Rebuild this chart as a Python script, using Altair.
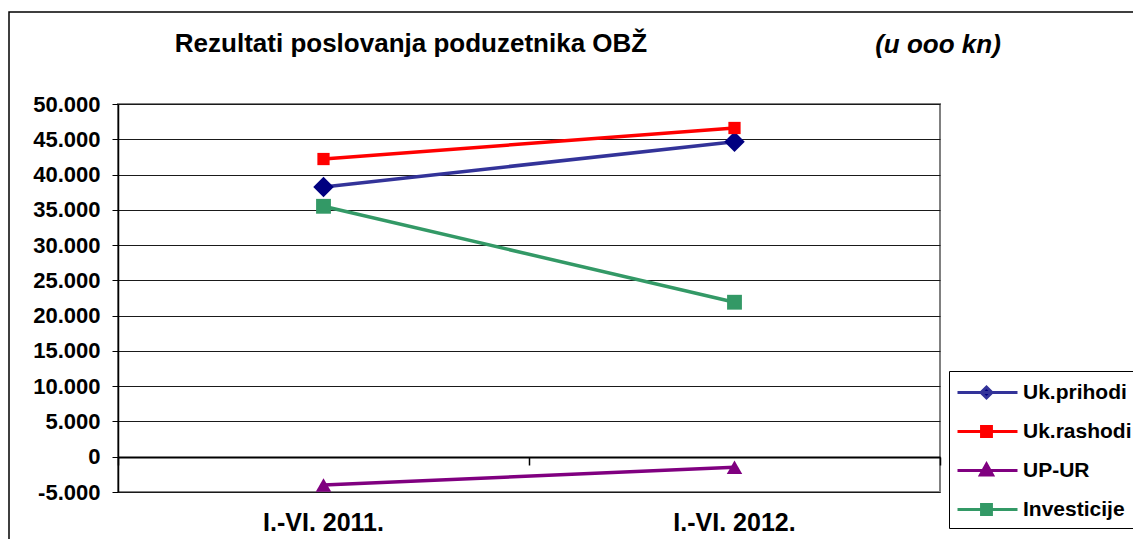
import altair as alt
import pandas as pd

categories = ["I.-VI. 2011.", "I.-VI. 2012."]
series_names = ["Uk.prihodi", "Uk.rashodi", "UP-UR", "Investicije"]
uk_prihodi = [38250, 44650]
uk_rashodi = [42200, 46600]
up_ur = [-4000, -1500]
investicije = [35500, 21900]
y_ticks = list(range(-5000, 50001, 5000))

line_colors = ["#333399", "#FF0000", "#800080", "#339966"]
marker_colors = ["#000080", "#FF0000", "#800080", "#339966"]
marker_shapes = ["diamond", "square", "triangle-up", "square"]
marker_sizes = [420, 150, 240, 220]

# legend symbols: line + marker, unit = 13 px
legend_shapes = [
    "M-1,0H3.615M1.23,-0.42L1.65,0L1.23,0.42L0.81,0Z",
    "M-1,0H3.615M0.85,-0.38H1.61V0.38H0.85Z",
    "M-1,0H3.615M1.23,-0.5L1.7,0.35L0.76,0.35Z",
    "M-1,0H3.615M0.85,-0.38H1.61V0.38H0.85Z",
]

FONT = "Liberation Sans"

rows = []
for name, vals, msz in zip(series_names, [uk_prihodi, uk_rashodi, up_ur, investicije], marker_sizes):
    for cat, v in zip(categories, vals):
        rows.append({"Serija": name, "Razdoblje": cat, "Vrijednost": v, "msize": msz})
df = pd.DataFrame(rows)

x_enc = alt.X(
    "Razdoblje:N",
    sort=categories,
    bandPosition=0.5,
    scale=alt.Scale(type="band", paddingInner=0, paddingOuter=0),
    axis=alt.Axis(
        title=None, orient="bottom", offset=-35, bandPosition=1, tickExtra=True,
        tickSize=8, tickColor="black", tickWidth=1.5, domainColor="black", domainWidth=2,
        labelFont=FONT, labelFontSize=25, labelFontWeight="bold", labelColor="black",
        labelBaseline="alphabetic", labelPadding=65, labelAngle=0, grid=False,
    ),
)
y_enc = alt.Y(
    "Vrijednost:Q",
    scale=alt.Scale(domain=[-5000, 50000], nice=False, zero=False),
    axis=alt.Axis(
        title=None, values=y_ticks, grid=True, gridColor="#1a1a1a", gridWidth=1,
        domainColor="black", domainWidth=1.5, tickColor="black", tickSize=6,
        labelFont=FONT, labelFontSize=22, labelFontWeight="bold", labelColor="black",
        labelPadding=12,
        labelExpr="datum.value < 0 ? '-' + replace(format(-datum.value, ','), ',', '.') : replace(format(datum.value, ','), ',', '.')",
    ),
)

base = alt.Chart(df)

lines = base.mark_line(strokeWidth=3.5).encode(
    x=x_enc, y=y_enc,
    stroke=alt.Stroke("Serija:N", sort=series_names,
                      scale=alt.Scale(domain=series_names, range=line_colors), legend=None),
)

points = base.mark_point(filled=True, opacity=1).encode(
    x=x_enc, y=y_enc,
    fill=alt.Fill("Serija:N", scale=alt.Scale(domain=series_names, range=marker_colors), legend=None),
    shape=alt.Shape("Serija:N", scale=alt.Scale(domain=series_names, range=marker_shapes), legend=None),
    size=alt.Size("msize:Q", scale=None, legend=None),
)

leg = alt.Legend(
    title=None, orient="none", legendX=831, legendY=267,
    labelFont=FONT, labelFontSize=21, labelFontWeight="bold", labelColor="black",
    symbolSize=676, symbolStrokeWidth=3, labelOffset=38, padding=7,
    strokeColor="black", fillColor="white", rowPadding=13,
)
legend_layer = base.transform_filter("false").mark_point(filled=True, opacity=1, strokeWidth=3).encode(
    x=x_enc, y=y_enc,
    fill=alt.Fill("Serija:N", scale=alt.Scale(domain=series_names, range=marker_colors), legend=leg),
    stroke=alt.Stroke("Serija:N", scale=alt.Scale(domain=series_names, range=line_colors), legend=leg),
    shape=alt.Shape("Serija:N", scale=alt.Scale(domain=series_names, range=legend_shapes), legend=leg),
)

title_data = alt.Data(values=[{"a": 1}])
title_main = alt.Chart(title_data).mark_text(
    text="Rezultati poslovanja poduzetnika OBŽ", font=FONT, fontSize=26, fontWeight="bold",
    align="center", baseline="alphabetic", color="black",
).encode(x=alt.value(293), y=alt.value(-52))
title_unit = alt.Chart(title_data).mark_text(
    text="(u ooo kn)", font=FONT, fontSize=26, fontWeight="bold", fontStyle="italic",
    align="center", baseline="alphabetic", color="black",
).encode(x=alt.value(820), y=alt.value(-51))
frame = alt.Chart(title_data).mark_rect(fill="transparent", stroke="black", strokeWidth=1.5).encode(
    x=alt.value(-109), x2=alt.value(1100), y=alt.value(-92), y2=alt.value(600),
)

chart = alt.layer(frame, lines, points, legend_layer, title_main, title_unit).resolve_scale(
    color="independent", shape="independent", fill="independent", stroke="independent", size="independent"
).properties(
    width=822, height=388,
    autosize=alt.AutoSizeParams(type="none"),
    padding={"left": 110, "top": 96, "right": 193, "bottom": 47},
    background="white",
).configure_view(stroke="#808080", strokeWidth=2)

chart.save("out.html", embed_options={"renderer": "svg", "actions": False})
